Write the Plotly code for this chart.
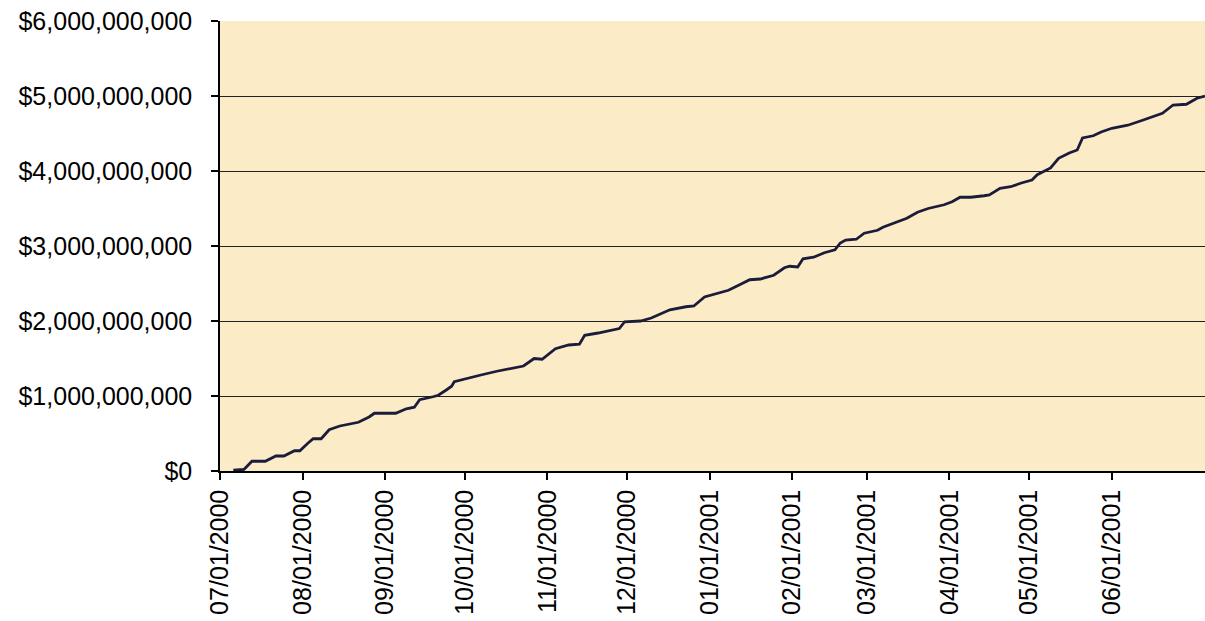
import plotly.graph_objects as go

dates = [
    "2000-07-06", "2000-07-10", "2000-07-13", "2000-07-18", "2000-07-22", "2000-07-25",
    "2000-07-29", "2000-07-31", "2000-08-03", "2000-08-05", "2000-08-08", "2000-08-11",
    "2000-08-15", "2000-08-20", "2000-08-22", "2000-08-26", "2000-08-28", "2000-09-05",
    "2000-09-09", "2000-09-12", "2000-09-14", "2000-09-19", "2000-09-21", "2000-09-24",
    "2000-09-26", "2000-09-27", "2000-10-02", "2000-10-07", "2000-10-13", "2000-10-18",
    "2000-10-23", "2000-10-27", "2000-10-30", "2000-11-04", "2000-11-09", "2000-11-13",
    "2000-11-15", "2000-11-20", "2000-11-25", "2000-11-28", "2000-11-30", "2000-12-06",
    "2000-12-10", "2000-12-14", "2000-12-17", "2000-12-23", "2000-12-26", "2000-12-30",
    "2001-01-03", "2001-01-08", "2001-01-12", "2001-01-16", "2001-01-20", "2001-01-25",
    "2001-01-29", "2001-01-31", "2001-02-03", "2001-02-05", "2001-02-09", "2001-02-13",
    "2001-02-17", "2001-02-19", "2001-02-21", "2001-02-25", "2001-02-28", "2001-03-05",
    "2001-03-07", "2001-03-12", "2001-03-16", "2001-03-20", "2001-03-24", "2001-03-30",
    "2001-04-02", "2001-04-05", "2001-04-09", "2001-04-14", "2001-04-16", "2001-04-20",
    "2001-04-24", "2001-04-28", "2001-05-02", "2001-05-04", "2001-05-07", "2001-05-09",
    "2001-05-12", "2001-05-16", "2001-05-19", "2001-05-21", "2001-05-25", "2001-05-28",
    "2001-06-01", "2001-06-07", "2001-06-12", "2001-06-16", "2001-06-20", "2001-06-24",
    "2001-06-29", "2001-07-03", "2001-07-06",
]

cumulative_billions = [
    0.01, 0.02, 0.13, 0.13, 0.20, 0.20,
    0.27, 0.27, 0.37, 0.43, 0.43, 0.55,
    0.60, 0.64, 0.65, 0.72, 0.77, 0.77,
    0.83, 0.85, 0.95, 0.99, 1.01, 1.08,
    1.13, 1.19, 1.24, 1.28, 1.33, 1.36,
    1.40, 1.50, 1.49, 1.63, 1.68, 1.69,
    1.81, 1.84, 1.88, 1.90, 1.99, 2.00,
    2.04, 2.10, 2.15, 2.19, 2.20, 2.32,
    2.36, 2.41, 2.48, 2.55, 2.56, 2.61,
    2.71, 2.73, 2.72, 2.83, 2.85, 2.91,
    2.95, 3.04, 3.08, 3.09, 3.17, 3.21,
    3.25, 3.32, 3.37, 3.45, 3.50, 3.55,
    3.59, 3.65, 3.65, 3.67, 3.68, 3.77,
    3.79, 3.84, 3.88, 3.95, 4.01, 4.04,
    4.17, 4.24, 4.28, 4.44, 4.47, 4.52,
    4.57, 4.61, 4.67, 4.72, 4.77, 4.88,
    4.89, 4.97, 5.00,
]

month_ticks = [
    "2000-07-01", "2000-08-01", "2000-09-01", "2000-10-01", "2000-11-01", "2000-12-01",
    "2001-01-01", "2001-02-01", "2001-03-01", "2001-04-01", "2001-05-01", "2001-06-01",
]

y_ticks = [0, 1e9, 2e9, 3e9, 4e9, 5e9, 6e9]
y_tick_text = ["$0", "$1,000,000,000", "$2,000,000,000", "$3,000,000,000",
               "$4,000,000,000", "$5,000,000,000", "$6,000,000,000"]

values = [v * 1e9 for v in cumulative_billions]

fig = go.Figure()
fig.add_trace(go.Scatter(
    x=dates, y=values, mode="lines",
    line=dict(color="#1b1b3a", width=2.8),
    showlegend=False, hoverinfo="skip",
))

font_family = "Liberation Sans, Arial, sans-serif"

fig.update_layout(
    width=1205, height=621,
    margin=dict(l=220, r=0, t=21, b=150),
    paper_bgcolor="white",
    plot_bgcolor="#FBEBC7",
    font=dict(family=font_family, color="black", size=25),
    xaxis=dict(
        type="date",
        range=["2000-07-01", "2001-07-06"],
        tickvals=month_ticks,
        tickformat="%m/%d/%Y",
        tickangle=-90,
        ticks="outside", ticklen=7, tickwidth=1.5, tickcolor="black",
        showline=True, linecolor="black", linewidth=1.5,
        showgrid=False, zeroline=False,
        tickfont=dict(size=25, family=font_family, color="black"),
    ),
    yaxis=dict(
        range=[0, 6e9],
        tickvals=y_ticks,
        ticktext=y_tick_text,
        ticks="outside", ticklen=7, tickwidth=1.5, tickcolor="black",
        showline=True, linecolor="black", linewidth=1.5,
        showgrid=True, gridcolor="#222222", gridwidth=1.3,
        zeroline=False,
        ticklabelstandoff=14,
        tickfont=dict(size=25, family=font_family, color="black"),
    ),
)

fig.write_html(
    "out.html",
    config={"displayModeBar": False},
    post_script="document.body.style.margin='0';document.body.style.overflow='hidden';",
)
